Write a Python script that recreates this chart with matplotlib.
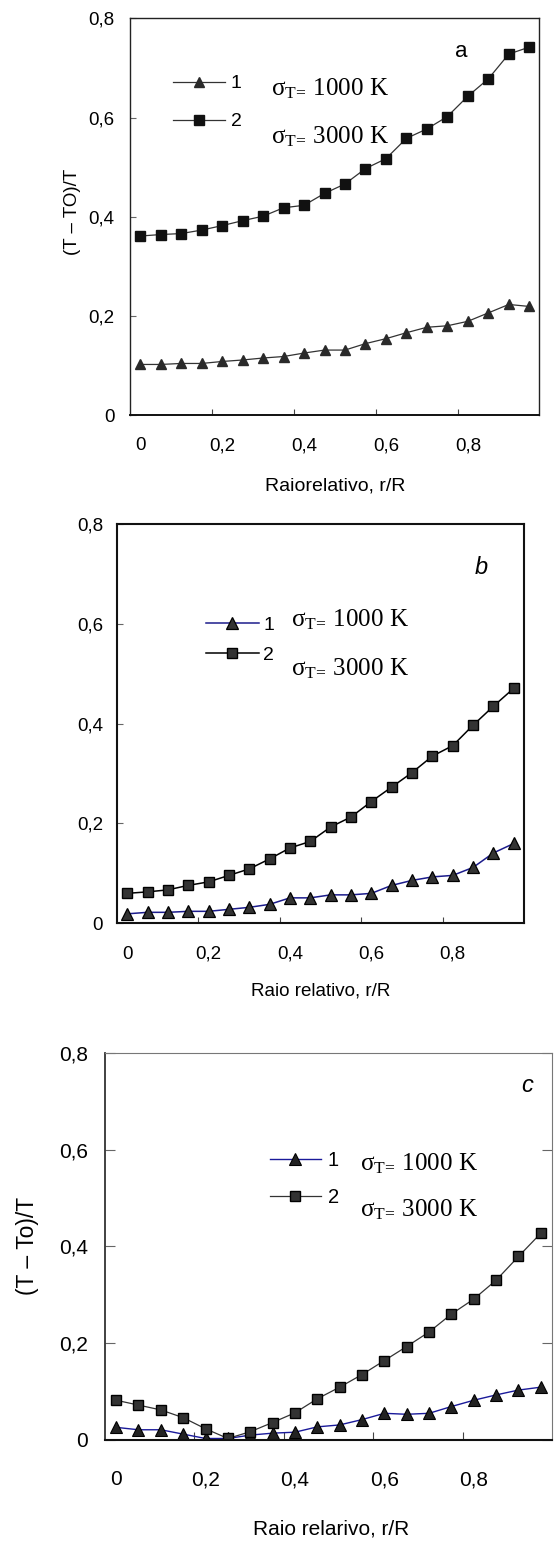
import matplotlib.pyplot as plt
from matplotlib.ticker import FixedLocator, FuncFormatter

plt.rcParams.update({'font.family': ['Liberation Sans', 'DejaVu Sans'],
                     'mathtext.fontset': 'custom',
                     'mathtext.rm': 'Liberation Serif',
                     'mathtext.it': 'Liberation Serif:italic',
                     'legend.frameon': False})

serif = ['Liberation Serif', 'DejaVu Serif']

# relative radius r/R
r = [0.00, 0.05, 0.10, 0.15, 0.20, 0.25, 0.30, 0.35, 0.40, 0.45,
     0.50, 0.55, 0.60, 0.65, 0.70, 0.75, 0.80, 0.85, 0.90, 0.95]

# (T - To)/T for sigma_T = 1000 K (curve 1) and 3000 K (curve 2)
a_1000 = [0.102, 0.102, 0.104, 0.104, 0.108, 0.111, 0.115, 0.118, 0.125, 0.131,
          0.131, 0.144, 0.154, 0.166, 0.177, 0.180, 0.189, 0.206, 0.223, 0.219]
a_3000 = [0.361, 0.364, 0.366, 0.373, 0.382, 0.392, 0.401, 0.418, 0.423, 0.447,
          0.466, 0.497, 0.517, 0.558, 0.577, 0.602, 0.643, 0.678, 0.728, 0.742]
b_1000 = [0.019, 0.022, 0.022, 0.024, 0.024, 0.028, 0.032, 0.038, 0.051, 0.051,
          0.057, 0.057, 0.060, 0.076, 0.086, 0.093, 0.096, 0.112, 0.141, 0.160]
b_3000 = [0.060, 0.063, 0.067, 0.076, 0.083, 0.096, 0.109, 0.129, 0.151, 0.164,
          0.193, 0.213, 0.244, 0.273, 0.302, 0.335, 0.356, 0.397, 0.435, 0.471]
c_1000 = [0.026, 0.021, 0.021, 0.012, 0.003, 0.003, 0.010, 0.014, 0.016, 0.027,
          0.031, 0.042, 0.055, 0.053, 0.055, 0.069, 0.082, 0.093, 0.103, 0.109]
c_3000 = [0.082, 0.072, 0.062, 0.046, 0.023, 0.003, 0.017, 0.036, 0.056, 0.085,
          0.109, 0.135, 0.164, 0.193, 0.223, 0.260, 0.291, 0.330, 0.379, 0.427]

x_labels = [0, 0.2, 0.4, 0.6, 0.8]
y_ticks = [0, 0.2, 0.4, 0.6, 0.8]
legend_labels = ['1', '2']
sigma_labels = [r'σ$_{\mathrm{T}\!=\!}$ 1000 K', r'σ$_{\mathrm{T}\!=\!}$ 3000 K']


def comma(v, pos):
    return '0' if v == 0 else ('%.1f' % v).replace('.', ',')


def style_axes(ax, tick_fs, xpad, ypad, xlen, ylen, right_ticks=False):
    ax.set_xlim(-0.025, 0.975)
    ax.set_ylim(0, 0.8)
    ax.xaxis.set_major_locator(FixedLocator(x_labels))
    # category-style tick marks sit half a step before each label
    ax.xaxis.set_minor_locator(FixedLocator([v - 0.025 for v in x_labels[1:]]))
    ax.xaxis.set_major_formatter(FuncFormatter(comma))
    ax.yaxis.set_major_locator(FixedLocator(y_ticks))
    ax.yaxis.set_major_formatter(FuncFormatter(comma))
    ax.tick_params(axis='x', which='major', length=0, pad=xpad, labelsize=tick_fs)
    ax.tick_params(axis='x', which='minor', direction='in', length=xlen,
                   width=0.8, color='#444444')
    ax.tick_params(axis='y', direction='in', length=ylen, pad=ypad,
                   labelsize=tick_fs, width=0.8, color='#666666', right=right_ticks)


def set_spines(ax, color, width):
    for side in ['left', 'right', 'top', 'bottom']:
        ax.spines[side].set_color(color[side])
        ax.spines[side].set_linewidth(width[side])


def add_legend(ax, lines, x, y, fs, hl, htp, ls, sig_x, sig_y):
    ax.legend(lines, legend_labels, loc='upper left', bbox_to_anchor=(x, y),
              borderpad=0, borderaxespad=0, handlelength=hl, handletextpad=htp,
              labelspacing=ls, fontsize=fs, numpoints=1)
    for lbl, yb in zip(sigma_labels, sig_y):
        ax.text(sig_x, yb, lbl, transform=ax.transAxes, family=serif,
                fontsize=18, va='baseline')


fig = plt.figure(figsize=(5.56, 15.44), dpi=100)

# ---- panel a
ax1 = fig.add_axes([0.2338, 0.7312, 0.7365, 0.2569])
l1, = ax1.plot(r, a_1000, '-^', color='#333333', lw=0.9, ms=7.8,
               mfc='#2a2a2a', mec='#2a2a2a')
l2, = ax1.plot(r, a_3000, '-s', color='#333333', lw=0.9, ms=7.0,
               mfc='#111111', mec='#111111')
style_axes(ax1, 13.5, xpad=16, ypad=11, xlen=4, ylen=4.5)
set_spines(ax1, dict(left='#222222', right='#222222', top='#222222', bottom='#111111'),
           dict(left=1.0, right=1.0, top=1.0, bottom=1.4))
add_legend(ax1, [l1, l2], 0.104, 0.858, 14, 2.68, 0.3, 1.05,
           0.344, [0.807, 0.685])
ax1.text(0.808, 0.902, 'a', transform=ax1.transAxes, fontsize=16,
         ha='center', va='baseline')
ax1.set_xlabel('Raiorelativo, r/R', fontsize=14, va='center')
ax1.xaxis.set_label_coords(0.5, -0.179)
ax1.set_ylabel('(T – TO)/T', fontsize=13.5, va='center')
ax1.yaxis.set_label_coords(-0.140, 0.513)

# ---- panel b
ax2 = fig.add_axes([0.2104, 0.4020, 0.7320, 0.2586])
l1, = ax2.plot(r, b_1000, '-^', color='#1c1c8c', lw=1.1, ms=8,
               mfc='#333333', mec='#000000', mew=0.9)
l2, = ax2.plot(r, b_3000, '-s', color='#000000', lw=1.1, ms=7.5,
               mfc='#333333', mec='#000000', mew=1.0)
style_axes(ax2, 13.5, xpad=16, ypad=10, xlen=4, ylen=4.5)
set_spines(ax2, dict(left='#111111', right='#111111', top='#111111', bottom='#111111'),
           dict(left=1.5, right=1.5, top=1.5, bottom=1.5))
add_legend(ax2, [l1, l2], 0.2197, 0.768, 14, 2.68, 0.25, 0.6,
           0.4287, [0.7428, 0.6218])
ax2.text(0.894, 0.8748, 'b', transform=ax2.transAxes, fontsize=17,
         style='italic', ha='center', va='baseline')
ax2.set_xlabel('Raio relativo, r/R', fontsize=13.5, va='center')
ax2.xaxis.set_label_coords(0.501, -0.1695)

# ---- panel c
ax3 = fig.add_axes([0.1888, 0.0674, 0.8040, 0.2508])
l1, = ax3.plot(r, c_1000, '-^', color='#1a1a9a', lw=1.0, ms=8,
               mfc='#222222', mec='#000000', mew=0.8)
l2, = ax3.plot(r, c_3000, '-s', color='#333333', lw=0.9, ms=7.8,
               mfc='#333333', mec='#000000', mew=1.0)
style_axes(ax3, 15, xpad=22, ypad=12, xlen=6, ylen=7, right_ticks=True)
set_spines(ax3, dict(left='#333333', right='#777777', top='#777777', bottom='#111111'),
           dict(left=1.3, right=0.8, top=0.8, bottom=1.5))
add_legend(ax3, [l1, l2], 0.369, 0.745, 14.5, 2.52, 0.35, 0.85,
           0.5705, [0.6971, 0.5766])
ax3.text(0.944, 0.8993, 'c', transform=ax3.transAxes, fontsize=17,
         style='italic', ha='center', va='baseline')
ax3.set_xlabel('Raio relarivo, r/R', fontsize=15, va='center')
ax3.xaxis.set_label_coords(0.5067, -0.231)
ax3.set_ylabel('(T – To)/T', fontsize=16.5, va='center')
ax3.yaxis.set_label_coords(-0.1734, 0.501)

plt.savefig('out.png', dpi=100)
